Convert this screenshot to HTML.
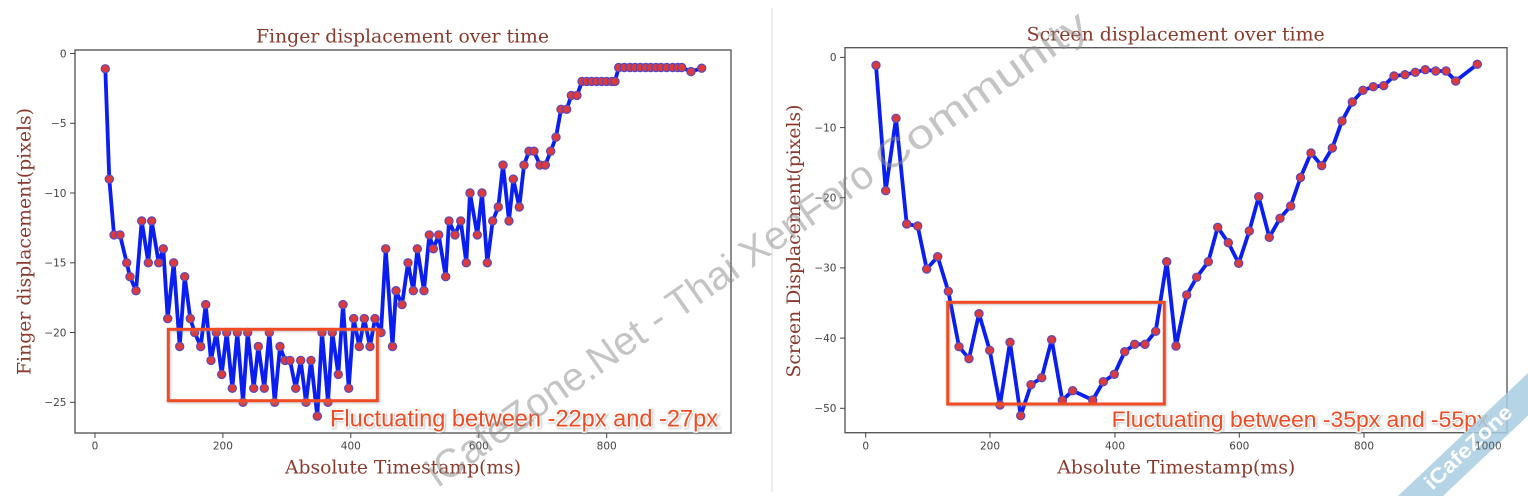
<!DOCTYPE html>
<html>
<head>
<meta charset="utf-8">
<style>
html,body{margin:0;padding:0;background:#fff;}
svg{display:block;}
.tt{font-family:"DejaVu Serif","Liberation Serif",serif;fill:#8a3a2c;}
.tk{font-family:"DejaVu Sans","Liberation Sans",sans-serif;font-size:10.5px;fill:#444;}
.an{font-family:"Liberation Sans",Arial,sans-serif;fill:#f04b23;}
</style>
</head>
<body>
<svg width="1528" height="496" viewBox="0 0 1528 496" xmlns="http://www.w3.org/2000/svg">
<defs>
<marker id="m" markerWidth="10" markerHeight="10" refX="5" refY="5" markerUnits="userSpaceOnUse" overflow="visible">
<circle cx="5" cy="5" r="4.1" fill="#de3a3c" stroke="#5848bc" stroke-width="1.2"/>
</marker>
<filter id="sh" x="-5%" y="-30%" width="110%" height="160%">
<feDropShadow dx="1" dy="1" stdDeviation="1" flood-color="#888" flood-opacity="0.5"/>
</filter>
</defs>
<rect width="1528" height="496" fill="#fff"/>
<line x1="772" y1="8" x2="772" y2="492" stroke="#eeeeee" stroke-width="2"/>

<!-- LEFT CHART -->
<text class="tt" x="256" y="42.5" font-size="18.5" textLength="293" lengthAdjust="spacingAndGlyphs">Finger displacement over time</text>
<text class="tt" font-size="18.5" text-anchor="middle" textLength="267" lengthAdjust="spacingAndGlyphs" transform="translate(30.5,241.5) rotate(-90)">Finger displacement(pixels)</text>
<text class="tt" x="285" y="473.5" font-size="18.5" textLength="236" lengthAdjust="spacingAndGlyphs">Absolute Timestamp(ms)</text>

<rect x="75" y="50" width="656" height="383" fill="none" stroke="#5a5a5a" stroke-width="1.4"/>
<g stroke="#444" stroke-width="1">
<line x1="70" y1="53.5" x2="75" y2="53.5"/>
<line x1="70" y1="123.3" x2="75" y2="123.3"/>
<line x1="70" y1="193" x2="75" y2="193"/>
<line x1="70" y1="262.8" x2="75" y2="262.8"/>
<line x1="70" y1="332.5" x2="75" y2="332.5"/>
<line x1="70" y1="402.3" x2="75" y2="402.3"/>
<line x1="95" y1="433" x2="95" y2="438"/>
<line x1="222.9" y1="433" x2="222.9" y2="438"/>
<line x1="350.8" y1="433" x2="350.8" y2="438"/>
<line x1="478.8" y1="433" x2="478.8" y2="438"/>
<line x1="606.7" y1="433" x2="606.7" y2="438"/>
</g>
<g class="tk" text-anchor="end">
<text x="66.5" y="53.5" dy="0.36em">0</text>
<text x="66.5" y="123.3" dy="0.36em">−5</text>
<text x="66.5" y="193" dy="0.36em">−10</text>
<text x="66.5" y="262.8" dy="0.36em">−15</text>
<text x="66.5" y="332.5" dy="0.36em">−20</text>
<text x="66.5" y="402.3" dy="0.36em">−25</text>
</g>
<g class="tk" text-anchor="middle">
<text x="95" y="449.5">0</text>
<text x="222.9" y="449.5">200</text>
<text x="350.8" y="449.5">400</text>
<text x="478.8" y="449.5">600</text>
<text x="606.7" y="449.5">800</text>
</g>

<polyline fill="none" stroke="#0a1ef0" stroke-width="3.8" stroke-linejoin="round" marker-start="url(#m)" marker-mid="url(#m)" marker-end="url(#m)" points="105.3,68.8 109.3,179.1 114,234.9 120,234.9 126.7,262.8 130,276.7 136,290.7 141.7,220.9 148.3,262.8 151.7,220.9 158.7,262.8 163.3,248.8 167.7,318.6 173.7,262.8 179.7,346.5 184.7,276.7 190.3,318.6 194.7,332.5 200.7,346.5 205.7,304.6 211,360.4 216.3,332.5 221.7,374.4 226.7,332.5 232.3,388.3 237.3,332.5 243,402.3 247.7,332.5 253.7,388.3 258.3,346.5 264.3,388.3 269.3,332.5 274.7,402.3 280,346.5 285,360.4 290,360.4 295.7,388.3 300.7,360.4 306,402.3 311,360.4 317.3,416.2 322,332.5 328,402.3 332.3,332.5 338.3,374.4 343,304.6 348.7,388.3 353.7,318.6 359.3,346.5 364.3,318.6 370,346.5 375,318.6 381,332.5 385.7,248.8 392.5,346.5 396,290.7 402,304.6 408,262.8 413.3,290.7 417.3,248.8 424,290.7 429.3,234.9 433.3,248.8 438.7,234.9 445.7,276.7 449,220.9 455,234.9 460.7,220.9 466.3,262.8 470,193 477.3,234.9 482,193 487.3,262.8 492.7,220.9 498.3,207 503,165.1 509,220.9 513.3,179.1 519.3,207 524,165.1 529,151.2 534,151.2 540,165.1 545.3,165.1 550.7,151.2 556,137.2 561,109.3 566.7,109.3 571.3,95.4 577,95.4 582,81.4 586.7,81.4 591.7,81.4 596.7,81.4 601.7,81.4 606.7,81.4 611.7,81.4 615,81.4 618.7,67.5 624.3,67.5 630,67.5 635,67.5 640.3,67.5 645.7,67.5 650.7,67.5 656,67.5 661,67.5 666.7,67.5 672.7,67.5 677.7,67.5 681.7,67.5 691,71.6 701.7,68.2"/>

<rect x="168.3" y="329.3" width="209" height="71.4" fill="none" stroke="#f04b23" stroke-width="3" filter="url(#sh)"/>
<text class="an" x="330" y="426.5" font-size="23.7" textLength="388" lengthAdjust="spacingAndGlyphs" stroke="#fff" stroke-width="2.5" paint-order="stroke" filter="url(#sh)">Fluctuating between -22px and -27px</text>

<!-- RIGHT CHART -->
<text class="tt" x="1026.7" y="40.5" font-size="18.5" textLength="298" lengthAdjust="spacingAndGlyphs">Screen displacement over time</text>
<text class="tt" font-size="18.5" text-anchor="middle" textLength="273" lengthAdjust="spacingAndGlyphs" transform="translate(800,241) rotate(-90)">Screen Displacement(pixels)</text>
<text class="tt" x="1057.3" y="473.5" font-size="18.5" textLength="238" lengthAdjust="spacingAndGlyphs">Absolute Timestamp(ms)</text>

<rect x="845" y="47.7" width="662" height="385" fill="none" stroke="#5a5a5a" stroke-width="1.4"/>
<g stroke="#444" stroke-width="1">
<line x1="840" y1="57.4" x2="845" y2="57.4"/>
<line x1="840" y1="127.6" x2="845" y2="127.6"/>
<line x1="840" y1="197.7" x2="845" y2="197.7"/>
<line x1="840" y1="267.9" x2="845" y2="267.9"/>
<line x1="840" y1="338.1" x2="845" y2="338.1"/>
<line x1="840" y1="408.3" x2="845" y2="408.3"/>
<line x1="865.7" y1="432.7" x2="865.7" y2="437.7"/>
<line x1="990" y1="432.7" x2="990" y2="437.7"/>
<line x1="1115" y1="432.7" x2="1115" y2="437.7"/>
<line x1="1239.3" y1="432.7" x2="1239.3" y2="437.7"/>
<line x1="1364" y1="432.7" x2="1364" y2="437.7"/>
<line x1="1488.3" y1="432.7" x2="1488.3" y2="437.7"/>
</g>
<g class="tk" text-anchor="end">
<text x="836.5" y="57.4" dy="0.36em">0</text>
<text x="836.5" y="127.6" dy="0.36em">−10</text>
<text x="836.5" y="197.7" dy="0.36em">−20</text>
<text x="836.5" y="267.9" dy="0.36em">−30</text>
<text x="836.5" y="338.1" dy="0.36em">−40</text>
<text x="836.5" y="408.3" dy="0.36em">−50</text>
</g>
<g class="tk" text-anchor="middle">
<text x="865.7" y="449.5">0</text>
<text x="990" y="449.5">200</text>
<text x="1115" y="449.5">400</text>
<text x="1239.3" y="449.5">600</text>
<text x="1364" y="449.5">800</text>
</g>

<polyline fill="none" stroke="#0a1ef0" stroke-width="3.8" stroke-linejoin="round" marker-start="url(#m)" marker-mid="url(#m)" marker-end="url(#m)" points="876,65.3 885.7,190.7 896,118.3 906.7,224 917.7,226 926.7,269 937.7,256.7 948.3,291.3 959,346.7 969,358.7 979,313.7 989.7,350.3 1000,405 1010,342.3 1020.7,415.7 1031,384.7 1041.7,377.7 1051.7,339.7 1062.3,400.3 1072.7,390.7 1092.7,400 1103.3,381.7 1114.3,374.3 1124.7,351.7 1134.7,344.3 1145,344.3 1155.7,331.3 1166.7,261.7 1176,346 1186.7,295 1196.7,277.3 1208.3,261.7 1217.7,227.3 1228.3,242.7 1238.7,263.3 1249.3,231 1258.7,196.7 1269.3,237.3 1280,218.3 1290.7,206 1300.5,177.5 1311,153 1321.7,165.7 1332.3,148 1342,121 1352.3,102 1363,90.3 1373.3,86.7 1383.7,85.7 1394,76 1405,74.7 1415.3,72.3 1425.3,69.7 1435.7,71 1446,71 1455.7,81 1477.3,64.3"/>

<rect x="947.7" y="302.3" width="216.6" height="101.7" fill="none" stroke="#f04b23" stroke-width="3" filter="url(#sh)"/>
<text class="an" x="1111.7" y="427" font-size="22.5" textLength="376.6" lengthAdjust="spacingAndGlyphs" stroke="#fff" stroke-width="2.5" paint-order="stroke" filter="url(#sh)">Fluctuating between -35px and -55px</text>

<!-- WATERMARK -->
<g transform="translate(438,488) rotate(-35)" font-family="Liberation Sans, Arial, sans-serif" font-size="40" fill="#8a8a8a" fill-opacity="0.5">
<text x="0" y="0" textLength="536" lengthAdjust="spacingAndGlyphs">iCafeZone.Net - Thai XenForo</text>
<text x="547" y="0" textLength="250" lengthAdjust="spacingAndGlyphs">Community</text>
</g>

<!-- CORNER RIBBON -->
<polygon points="1398,496 1443,496 1528,415.6 1528,373" fill="#a8cde2" fill-opacity="0.85"/>
<text x="1468" y="447" dy="0.35em" text-anchor="middle" font-family="Liberation Sans, Arial, sans-serif" font-weight="bold" font-size="21" fill="#fff" textLength="112" lengthAdjust="spacingAndGlyphs" transform="rotate(-43.4 1468 447)">iCafeZone</text>
<text class="tk" x="1488.3" y="449.5" text-anchor="middle" fill-opacity="0.85">1000</text>
</svg>
</body>
</html>
